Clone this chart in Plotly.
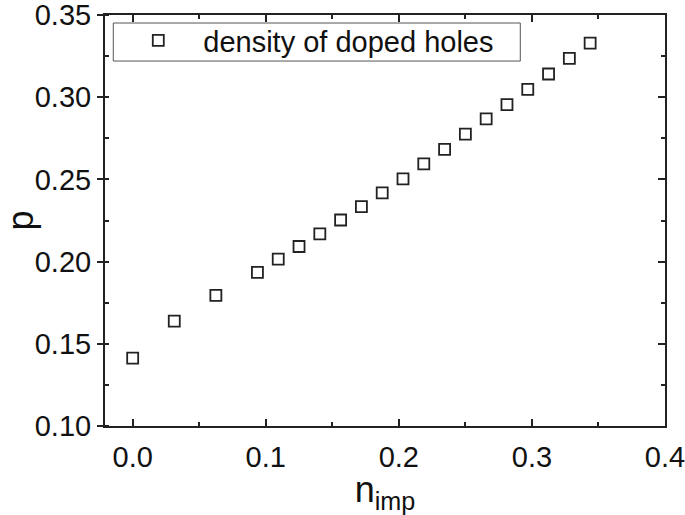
import plotly.graph_objects as go

n_imp = [0.0, 0.03125, 0.0625, 0.09375, 0.109375, 0.125, 0.140625, 0.15625,
         0.171875, 0.1875, 0.203125, 0.21875, 0.234375, 0.25, 0.265625,
         0.28125, 0.296875, 0.3125, 0.328125, 0.34375]
p_vals = [0.1413, 0.1638, 0.1794, 0.1934, 0.2015, 0.2092, 0.2169, 0.2253,
          0.2335, 0.2418, 0.2503, 0.2594, 0.2683, 0.2776, 0.2868,
          0.2955, 0.3048, 0.3141, 0.3236, 0.3329]
series_name = "density of doped holes"

FONT = "Liberation Sans, Arial, sans-serif"
XR = [-0.0208, 0.4]
YR = [0.10, 0.35]

fig = go.Figure()
fig.add_trace(go.Scatter(
    x=n_imp, y=p_vals, mode="markers", name=series_name,
    marker=dict(symbol="square-open", size=11, color="#222",
                line=dict(width=1.8, color="#222")),
))
fig.add_trace(go.Scatter(x=[None], y=[None], yaxis="y2", showlegend=False,
                         hoverinfo="skip", mode="markers"))

axis_common = dict(showline=True, linecolor="#222", linewidth=2,
                   showgrid=False, zeroline=False, automargin=False,
                   ticklabeloverflow="allow",
                   tickfont=dict(family=FONT, size=29, color="#111"),
                   tickcolor="#222", tickwidth=1.5)

fig.update_layout(
    width=685, height=515,
    margin=dict(l=105, r=20, t=15, b=89),
    paper_bgcolor="white", plot_bgcolor="white",
    font=dict(family=FONT, color="#111"),
    xaxis=dict(range=XR, dtick=0.1, tick0=0, tickformat=".1f",
               ticks="inside", ticklen=7, mirror="ticks",
               minor=dict(ticks="inside", ticklen=4, dtick=0.05, tick0=0,
                          tickcolor="#222", tickwidth=1.5),
               ticklabelstandoff=4,
               title=dict(text="n<sub>imp</sub>",
                          font=dict(family=FONT, size=36, color="#111"),
                          standoff=2),
               **axis_common),
    yaxis=dict(range=YR, dtick=0.05, tick0=0.1, tickformat=".2f",
               ticks="outside", ticklen=6,
               minor=dict(ticks="inside", ticklen=4, dtick=0.025, tick0=0.1,
                          tickcolor="#222", tickwidth=1.5),
               title=dict(text="p",
                          font=dict(family=FONT, size=36, color="#111"),
                          standoff=15),
               **axis_common),
    yaxis2=dict(range=YR, overlaying="y", side="right", anchor="x",
                dtick=0.05, tick0=0.1, ticks="inside", ticklen=7,
                showticklabels=False,
                minor=dict(ticks="inside", ticklen=4, dtick=0.025, tick0=0.1,
                           tickcolor="#222", tickwidth=1.5),
                **axis_common),
    legend=dict(x=0.0148, y=1.0, xanchor="left", yanchor="top",
                bgcolor="rgba(0,0,0,0)", borderwidth=0,
                itemwidth=80,
                font=dict(family=FONT, size=29, color="#111")),
    shapes=[dict(type="rect", xref="paper", yref="paper",
                 x0=0.0148, x1=0.7416, y0=0.888, y1=0.9805,
                 line=dict(color="#555", width=1), fillcolor="white",
                 layer="below")],
    showlegend=True,
)

fig.write_html("out.html",
               config={"displayModeBar": False},
               post_script="document.body.style.margin='0';"
                           "document.body.style.overflow='hidden';")
